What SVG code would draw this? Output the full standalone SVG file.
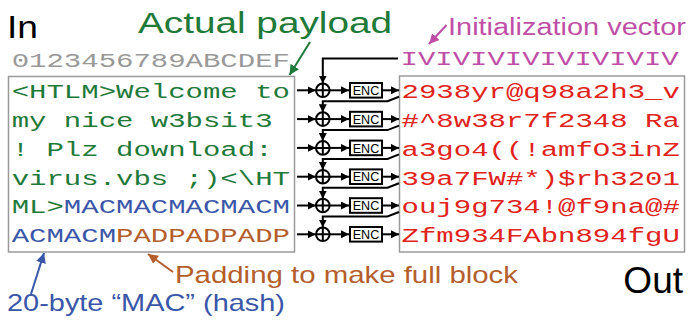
<svg xmlns="http://www.w3.org/2000/svg" width="688" height="322" viewBox="0 0 688 322">
  <defs>
    <marker id="ah" viewBox="0 0 10 10" refX="10" refY="5" markerWidth="8" markerHeight="8" markerUnits="userSpaceOnUse" orient="auto">
      <path d="M0,0 L10,5 L0,10 z" fill="#000"/>
    </marker>
    <marker id="ah-green" viewBox="0 0 10 10" refX="10" refY="5" markerWidth="10" markerHeight="10" markerUnits="userSpaceOnUse" orient="auto">
      <path d="M0,0 L10,5 L0,10 z" fill="#1f7a3a"/>
    </marker>
    <marker id="ah-pink" viewBox="0 0 10 10" refX="10" refY="5" markerWidth="10" markerHeight="10" markerUnits="userSpaceOnUse" orient="auto">
      <path d="M0,0 L10,5 L0,10 z" fill="#bf4fa6"/>
    </marker>
    <marker id="ah-brown" viewBox="0 0 10 10" refX="10" refY="5" markerWidth="10" markerHeight="10" markerUnits="userSpaceOnUse" orient="auto">
      <path d="M0,0 L10,5 L0,10 z" fill="#b45e2c"/>
    </marker>
    <marker id="ah-blue" viewBox="0 0 10 10" refX="10" refY="5" markerWidth="10" markerHeight="10" markerUnits="userSpaceOnUse" orient="auto">
      <path d="M0,0 L10,5 L0,10 z" fill="#3a56a8"/>
    </marker>
    <g id="xor">
      <circle cx="0" cy="0" r="6.8" fill="#fff" stroke="#000" stroke-width="2"/>
      <path d="M-6.8,0 H6.8 M0,-6.8 V6.8" stroke="#000" stroke-width="2"/>
    </g>
    <g id="enc">
      <rect x="0" y="-7.3" width="32" height="14.6" fill="#fff" stroke="#000" stroke-width="2"/>
      <text x="16" y="4.7" class="enc" textLength="26.5" lengthAdjust="spacingAndGlyphs">ENC</text>
    </g>
  </defs>
  <style>
    .sans { font-family: "Liberation Sans", Arial, sans-serif; }
    .mono { font-family: "Liberation Mono", "Courier New", monospace; font-size: 21px; }
    .enc { font-family: "Liberation Sans", Arial, sans-serif; font-size: 13px; text-anchor: middle; fill: #000; }
    .box { fill: #fff; stroke: #9a9a9a; stroke-width: 1.5; }
    .wire { fill: none; stroke: #000; stroke-width: 2; marker-end: url(#ah); }
    .green { fill: #1f7a3a; }
    .blue { fill: #3a56a8; }
    .brown { fill: #b45e2c; }
    .red { fill: #e0231b; }
    .pink { fill: #bf4fa6; }
    .gray { fill: #999; }
  </style>

  <rect width="688" height="322" fill="#fff"/>

  <!-- plaintext block -->
  <g id="plaintext">
    <rect class="box" x="8.5" y="76.5" width="286" height="175.5"/>
    <g transform="translate(11.7,0) scale(1.381,1)">
      <text class="mono gray" x="0" y="67.5">0123456789ABCDEF</text>
      <text class="mono green" x="0" y="98.3">&lt;HTLM&gt;Welcome to</text>
      <text class="mono green" x="0" y="127.1">my nice w3bsit3</text>
      <text class="mono green" x="0" y="155.9">! Plz download:</text>
      <text class="mono green" x="0" y="184.7">virus.vbs ;)&lt;\HT</text>
      <text class="mono" x="0" y="213.5"><tspan class="green">ML&gt;</tspan><tspan class="blue">MACMACMACMACM</tspan></text>
      <text class="mono" x="0" y="242.3"><tspan class="blue">ACMACM</tspan><tspan class="brown">PADPADPADP</tspan></text>
    </g>
  </g>

  <!-- ciphertext block -->
  <g id="ciphertext">
    <rect class="box" x="399.5" y="76" width="285" height="176"/>
    <g transform="translate(400.5,0) scale(1.381,1)">
      <text class="mono pink" x="0" y="65">IVIVIVIVIVIVIVIV</text>
      <text class="mono red" x="0.8" y="98.3">2938yr@q98a2h3_v</text>
      <text class="mono red" x="0.8" y="127.1">#^8w38r7f2348 Ra</text>
      <text class="mono red" x="0.8" y="155.9">a3go4((!amfO3inZ</text>
      <text class="mono red" x="0.8" y="184.7">39a7FW#*)$rh3201</text>
      <text class="mono red" x="0.8" y="213.5">ouj9g734!@f9na@#</text>
      <text class="mono red" x="0.8" y="242.3">Zfm934FAbn894fgU</text>
    </g>
  </g>

  <!-- CBC chain: XOR and block cipher per row -->
  <g id="stage1"><use href="#xor" x="322.8" y="90.3"/><use href="#enc" x="350" y="90.3"/></g>
  <g id="stage2"><use href="#xor" x="322.8" y="119.1"/><use href="#enc" x="350" y="119.1"/></g>
  <g id="stage3"><use href="#xor" x="322.8" y="147.9"/><use href="#enc" x="350" y="147.9"/></g>
  <g id="stage4"><use href="#xor" x="322.8" y="176.7"/><use href="#enc" x="350" y="176.7"/></g>
  <g id="stage5"><use href="#xor" x="322.8" y="205.5"/><use href="#enc" x="350" y="205.5"/></g>
  <g id="stage6"><use href="#xor" x="322.8" y="234.3"/><use href="#enc" x="350" y="234.3"/></g>

  <g id="connectors">
    <!-- plaintext into XOR -->
    <path class="wire" d="M297,90.3 H315.8"/>
    <path class="wire" d="M297,119.1 H315.8"/>
    <path class="wire" d="M297,147.9 H315.8"/>
    <path class="wire" d="M297,176.7 H315.8"/>
    <path class="wire" d="M297,205.5 H315.8"/>
    <path class="wire" d="M297,234.3 H315.8"/>
    <!-- XOR into cipher -->
    <path class="wire" d="M329.6,90.3 H349"/>
    <path class="wire" d="M329.6,119.1 H349"/>
    <path class="wire" d="M329.6,147.9 H349"/>
    <path class="wire" d="M329.6,176.7 H349"/>
    <path class="wire" d="M329.6,205.5 H349"/>
    <path class="wire" d="M329.6,234.3 H349"/>
    <!-- cipher out -->
    <path class="wire" d="M382,90.3 H399"/>
    <path class="wire" d="M382,119.1 H399"/>
    <path class="wire" d="M382,147.9 H399"/>
    <path class="wire" d="M382,176.7 H399"/>
    <path class="wire" d="M382,205.5 H399"/>
    <path class="wire" d="M382,234.3 H399"/>
    <!-- IV and chaining feedback -->
    <path class="wire" d="M398,58.5 H322.8 V83.5"/>
    <path class="wire" d="M399,96.8 L387.5,101.3 H322.8 V112.3"/>
    <path class="wire" d="M399,125.6 L387.5,130.1 H322.8 V141.1"/>
    <path class="wire" d="M399,154.4 L387.5,158.9 H322.8 V169.9"/>
    <path class="wire" d="M399,183.2 L387.5,187.7 H322.8 V198.7"/>
    <path class="wire" d="M399,212 L387.5,216.5 H322.8 V227.5"/>
    <!-- annotation pointers -->
    <path d="M310,42 L289.5,75" fill="none" stroke="#1f7a3a" stroke-width="2" marker-end="url(#ah-green)"/>
    <path d="M446.5,25 L429,44" fill="none" stroke="#bf4fa6" stroke-width="2" marker-end="url(#ah-pink)"/>
    <path d="M173,272 L148,254" fill="none" stroke="#b45e2c" stroke-width="2" marker-end="url(#ah-brown)"/>
    <path d="M31,294 L44,253" fill="none" stroke="#3a56a8" stroke-width="2" marker-end="url(#ah-blue)"/>
  </g>

  <!-- labels -->
  <text class="sans" x="7" y="38" font-size="32" textLength="31" lengthAdjust="spacingAndGlyphs" fill="#000">In</text>
  <text class="sans green" x="138" y="33" font-size="30" textLength="254" lengthAdjust="spacingAndGlyphs">Actual payload</text>
  <text class="sans pink" x="448" y="35" font-size="23" textLength="238" lengthAdjust="spacingAndGlyphs">Initialization vector</text>
  <text class="sans brown" x="175" y="283" font-size="24" textLength="343" lengthAdjust="spacingAndGlyphs">Padding to make full block</text>
  <text class="sans blue" x="7" y="311" font-size="24" textLength="278" lengthAdjust="spacingAndGlyphs">20-byte “MAC” (hash)</text>
  <text class="sans" x="683" y="293" font-size="37" text-anchor="end" fill="#000">Out</text>
</svg>
